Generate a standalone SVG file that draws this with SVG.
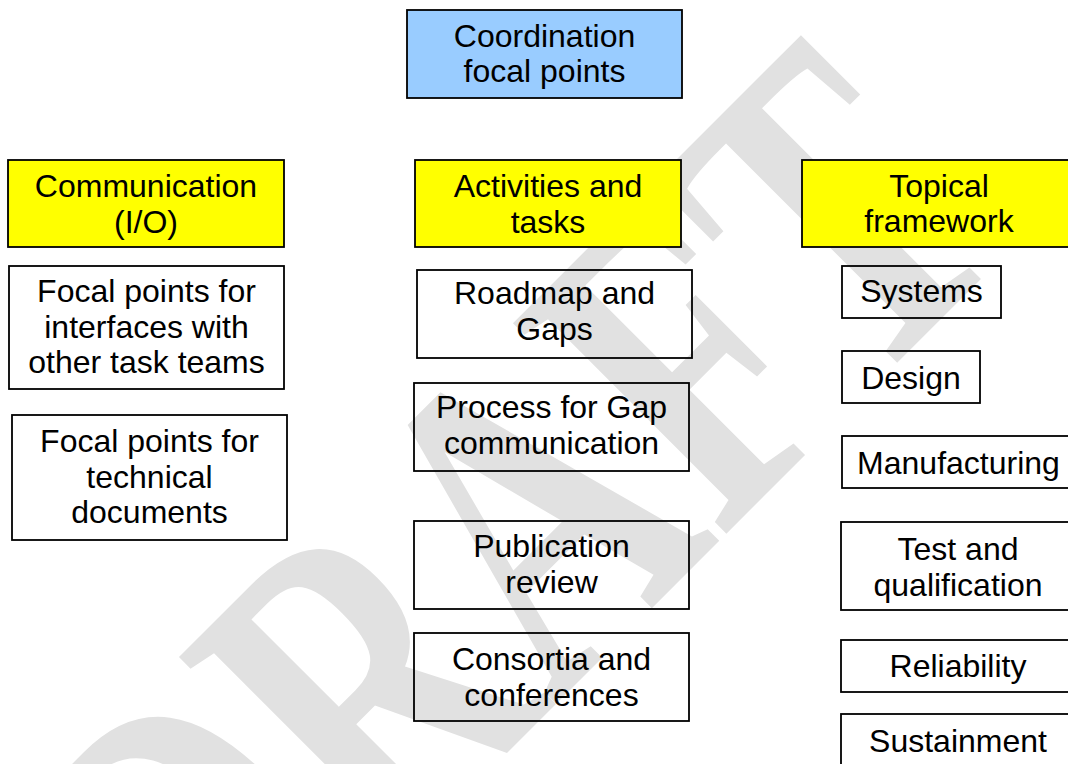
<svg xmlns="http://www.w3.org/2000/svg" width="1068" height="764" viewBox="0 0 1068 764">
  <style>
    .box { stroke: #000; stroke-width: 1.8; }
    .plain { fill: none; }
    .head { fill: #ffff00; }
    .top { fill: #99ccff; }
    .lbl { font-family: "Liberation Sans", Arial, sans-serif; font-size: 32px; fill: #000; text-anchor: middle; }
    .mark { font-family: "Liberation Serif", "Times New Roman", serif; font-size: 327px; font-weight: bold; fill: #e1e1e1; }
  </style>
  <rect width="1068" height="764" fill="#ffffff"/>

  <!-- watermark -->
  <g id="watermark">
    <text class="mark" transform="translate(220,1040) rotate(-45) scale(1,1.4)" x="0" y="0">DRAFT</text>
  </g>

  <g id="connectors"/>

  <g id="coordination">
    <rect class="box top" x="407" y="10" width="275" height="88"/>
    <text class="lbl" x="544.5" y="46.5">Coordination</text>
    <text class="lbl" x="544.5" y="82">focal points</text>
  </g>

  <!-- column headers -->
  <g id="communication">
    <rect class="box head" x="8" y="160" width="276" height="87"/>
    <text class="lbl" x="146" y="197">Communication</text>
    <text class="lbl" x="146" y="232.5">(I/O)</text>
  </g>
  <g id="activities">
    <rect class="box head" x="415" y="160" width="266" height="87"/>
    <text class="lbl" x="548" y="197">Activities and</text>
    <text class="lbl" x="548" y="232.5">tasks</text>
  </g>
  <g id="topical">
    <rect class="box head" x="802" y="160" width="274" height="87"/>
    <text class="lbl" x="939" y="196.5">Topical</text>
    <text class="lbl" x="939" y="232">framework</text>
  </g>

  <!-- communication column -->
  <g id="focal-interfaces">
    <rect class="box plain" x="9" y="266" width="275" height="123"/>
    <text class="lbl" x="146.5" y="302">Focal points for</text>
    <text class="lbl" x="146.5" y="337.5">interfaces with</text>
    <text class="lbl" x="146.5" y="373">other task teams</text>
  </g>
  <g id="focal-documents">
    <rect class="box plain" x="12" y="415" width="275" height="125"/>
    <text class="lbl" x="149.5" y="452">Focal points for</text>
    <text class="lbl" x="149.5" y="487.5">technical</text>
    <text class="lbl" x="149.5" y="523">documents</text>
  </g>

  <!-- activities column -->
  <g id="roadmap">
    <rect class="box plain" x="417" y="270" width="275" height="88"/>
    <text class="lbl" x="554.5" y="304">Roadmap and</text>
    <text class="lbl" x="554.5" y="340">Gaps</text>
  </g>
  <g id="gap-process">
    <rect class="box plain" x="414" y="383" width="275" height="88"/>
    <text class="lbl" x="551.5" y="418">Process for Gap</text>
    <text class="lbl" x="551.5" y="453.5">communication</text>
  </g>
  <g id="publication">
    <rect class="box plain" x="414" y="521" width="275" height="88"/>
    <text class="lbl" x="551.5" y="557">Publication</text>
    <text class="lbl" x="551.5" y="592.5">review</text>
  </g>
  <g id="consortia">
    <rect class="box plain" x="414" y="633" width="275" height="88"/>
    <text class="lbl" x="551.5" y="670">Consortia and</text>
    <text class="lbl" x="551.5" y="705.5">conferences</text>
  </g>

  <!-- topical column -->
  <g id="systems">
    <rect class="box plain" x="842" y="266" width="159" height="52"/>
    <text class="lbl" x="921.5" y="302">Systems</text>
  </g>
  <g id="design">
    <rect class="box plain" x="842" y="351" width="138" height="52"/>
    <text class="lbl" x="911" y="389">Design</text>
  </g>
  <g id="manufacturing">
    <rect class="box plain" x="842" y="436" width="233" height="52"/>
    <text class="lbl" x="958.5" y="474">Manufacturing</text>
  </g>
  <g id="test">
    <rect class="box plain" x="841" y="522" width="234" height="88"/>
    <text class="lbl" x="958" y="560">Test and</text>
    <text class="lbl" x="958" y="595.5">qualification</text>
  </g>
  <g id="reliability">
    <rect class="box plain" x="841" y="640" width="234" height="52"/>
    <text class="lbl" x="958" y="677">Reliability</text>
  </g>
  <g id="sustainment">
    <rect class="box plain" x="841" y="714" width="234" height="52"/>
    <text class="lbl" x="958" y="752">Sustainment</text>
  </g>
</svg>
